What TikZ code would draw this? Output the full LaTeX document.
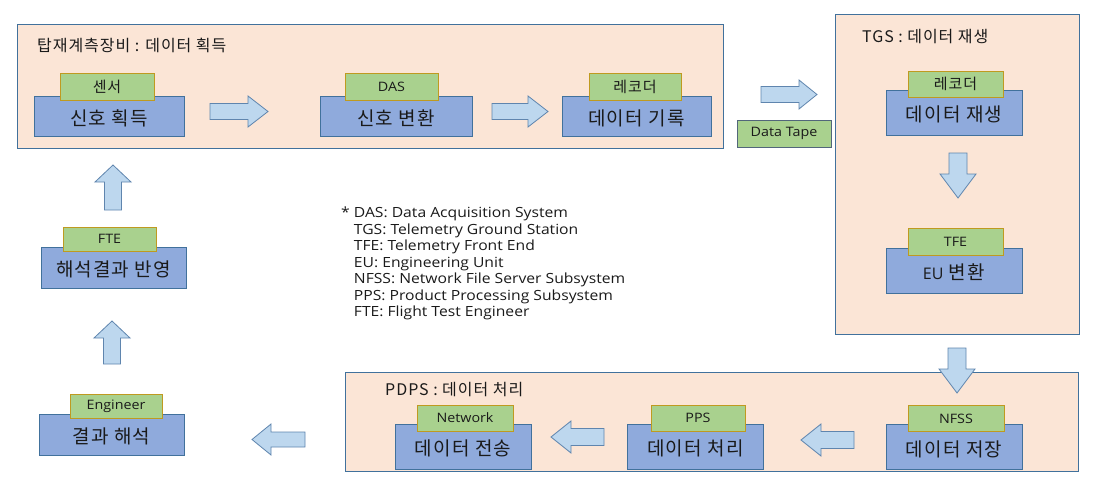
\documentclass[tikz,border=0pt]{standalone}
\usepackage{fontspec}
\setmainfont{Noto Sans CJK KR}
\newfontfamily\krT{Noto Sans CJK KR}[LetterSpace=6]
\newfontfamily\lat{Open Sans}[FakeStretch=1.1]
\newfontfamily\latL{Open Sans}[FakeStretch=1.12]
\definecolor{panelfill}{HTML}{FBE5D6}
\definecolor{panelline}{HTML}{41719C}
\definecolor{bluefill}{HTML}{8FAADC}
\definecolor{blueline}{HTML}{41719C}
\definecolor{greenfill}{HTML}{A9D18E}
\definecolor{greenline}{HTML}{BF9A20}
\definecolor{tapeline}{HTML}{52667A}
\definecolor{arrowfill}{HTML}{BDD7EE}
\definecolor{arrowline}{HTML}{5F85AE}
\definecolor{txt}{HTML}{1A1A1A}
\newcommand\harrow[6]{%
  \pgfmathsetmacro\hb{#2-sign(#2-#1)*#6}%
  \draw[blockarrow] (#1,#3-#4) -- (\hb,#3-#4) -- (\hb,#3-#5) -- (#2,#3) -- (\hb,#3+#5) -- (\hb,#3+#4) -- (#1,#3+#4) -- cycle;}
\newcommand\varrow[6]{%
  \pgfmathsetmacro\hb{#3-sign(#3-#2)*#6}%
  \draw[blockarrow] (#1-#4,#2) -- (#1-#4,\hb) -- (#1-#5,\hb) -- (#1,#3) -- (#1+#5,\hb) -- (#1+#4,\hb) -- (#1+#4,#2) -- cycle;}
\begin{document}
\begin{tikzpicture}[x=1pt,y=-1pt,
  panel/.style={draw=panelline, line width=1.1pt, fill=panelfill, anchor=north west, inner sep=0pt},
  bluebox/.style={draw=blueline, line width=0.9pt, fill=bluefill, inner sep=0pt},
  greentab/.style={draw=greenline, line width=0.9pt, fill=greenfill, inner sep=0pt, text=txt, font=\krT\fontsize{15}{17}\selectfont},
  tablat/.style={font=\lat\fontsize{13}{15}\selectfont},
  boxtext/.style={inner sep=0pt, text=txt, font=\krT\fontsize{19}{22}\selectfont},
  ttl/.style={anchor=west, inner sep=0pt, text=txt, font=\krT\fontsize{16}{19}\selectfont},
  blockarrow/.style={draw=arrowline, line width=0.8pt, fill=arrowfill, line join=miter},
  legend/.style={anchor=north west, inner sep=0pt, align=left, text=txt, font=\latL\fontsize{14}{16.5}\selectfont}]
\useasboundingbox (0,0) rectangle (1096,503);

% ---------- panel 1 ----------
\node[panel, minimum width=706pt, minimum height=124pt] (p1) at (17,24) {};
\node[ttl] (t1) at (37,45) {탑재계측장비 : 데이터 획득};

\node[bluebox, minimum width=150pt, minimum height=40pt] (b1) at (109,116) {};
\node[boxtext] at ([yshift=-2pt]b1.center) {신호 획득};
\node[greentab, minimum width=94pt, minimum height=27pt] (g1) at (107,87) {센서};

\node[bluebox, minimum width=152pt, minimum height=40pt] (b2) at (396,116) {};
\node[boxtext] at ([yshift=-2pt]b2.center) {신호 변환};
\node[greentab, tablat, minimum width=93pt, minimum height=27pt] (g2) at (391.5,87) {DAS};

\node[bluebox, minimum width=149pt, minimum height=40pt] (b3) at (636.5,116) {};
\node[boxtext] at ([yshift=-2pt]b3.center) {데이터 기록};
\node[greentab, minimum width=92pt, minimum height=27pt] (g3) at (635,87) {레코더};

\harrow{210}{268}{111.5}{8}{15.5}{20}
\harrow{492}{548}{111.5}{8}{15.5}{20}

% ---------- data tape ----------
\harrow{761}{817}{94.5}{8}{14.5}{18}
\node[greentab, tablat, draw=tapeline, minimum width=94pt, minimum height=27pt] (tape) at (784,133.5) {Data Tape};

% ---------- TGS panel ----------
\node[panel, minimum width=244pt, minimum height=320pt] (p2) at (835,14) {};
\node[ttl] (t2) at (862,37) {TGS : 데이터 재생};

\node[bluebox, minimum width=136pt, minimum height=45pt] (b4) at (954,112.5) {};
\node[boxtext] at ([yshift=-2pt]b4.center) {데이터 재생};
\node[greentab, minimum width=95pt, minimum height=26pt] (g4) at (955.5,84) {레코더};

\varrow{958}{153}{198}{9}{18}{24}

\node[bluebox, minimum width=136pt, minimum height=45pt] (b5) at (954,270.5) {};
\node[boxtext] at ([yshift=-2pt]b5.center) {{\fontspec{Open Sans}\fontsize{16}{19}\selectfont EU} 변환};
\node[greentab, tablat, minimum width=95pt, minimum height=27pt] (g5) at (955.5,241.5) {TFE};

% ---------- PDPS panel ----------
\node[panel, minimum width=733pt, minimum height=99pt] (p3) at (345,372) {};
\node[ttl] (t3) at (385,390) {PDPS : 데이터 처리};

\varrow{957}{348}{393}{9}{18}{24}

\node[bluebox, minimum width=136pt, minimum height=45pt] (b6) at (463,446.5) {};
\node[boxtext] at ([yshift=-2pt]b6.center) {데이터 전송};
\node[greentab, tablat, minimum width=96pt, minimum height=26pt] (g6) at (465,418) {Network};

\node[bluebox, minimum width=136pt, minimum height=45pt] (b7) at (695.5,446.5) {};
\node[boxtext] at ([yshift=-2pt]b7.center) {데이터 처리};
\node[greentab, tablat, minimum width=94pt, minimum height=26pt] (g7) at (698,418) {PPS};

\node[bluebox, minimum width=136pt, minimum height=45pt] (b8) at (954,447) {};
\node[boxtext] at ([yshift=-2pt]b8.center) {데이터 저장};
\node[greentab, tablat, minimum width=96pt, minimum height=26pt] (g8) at (956,418.5) {NFSS};

\harrow{604}{551}{437}{8.5}{16}{20}
\harrow{854}{801}{440}{8.5}{16}{20}

% ---------- left column ----------
\harrow{305}{252}{439.5}{7.5}{15.5}{19}

\node[bluebox, minimum width=145pt, minimum height=41pt] (b9) at (111.5,434.5) {};
\node[boxtext] at ([yshift=-2pt]b9.center) {결과 해석};
\node[greentab, tablat, minimum width=92pt, minimum height=24pt] (g9) at (116,406) {Engineer};

\varrow{112}{364}{321}{8.5}{18}{17}

\node[bluebox, minimum width=145pt, minimum height=41pt] (b10) at (113.5,267.5) {};
\node[boxtext] at ([yshift=-2pt]b10.center) {해석결과 반영};
\node[greentab, tablat, minimum width=93pt, minimum height=24pt] (g10) at (109.5,239) {FTE};

\varrow{113}{210}{165}{8.5}{18}{17}

% ---------- legend ----------
\node[legend] (leg) at (341,207) {%
* DAS: Data Acquisition System\\
\hphantom{* }TGS: Telemetry Ground Station\\
\hphantom{* }TFE: Telemetry Front End\\
\hphantom{* }EU: Engineering Unit\\
\hphantom{* }NFSS: Network File Server Subsystem\\
\hphantom{* }PPS: Product Processing Subsystem\\
\hphantom{* }FTE: Flight Test Engineer};
\end{tikzpicture}
\end{document}
